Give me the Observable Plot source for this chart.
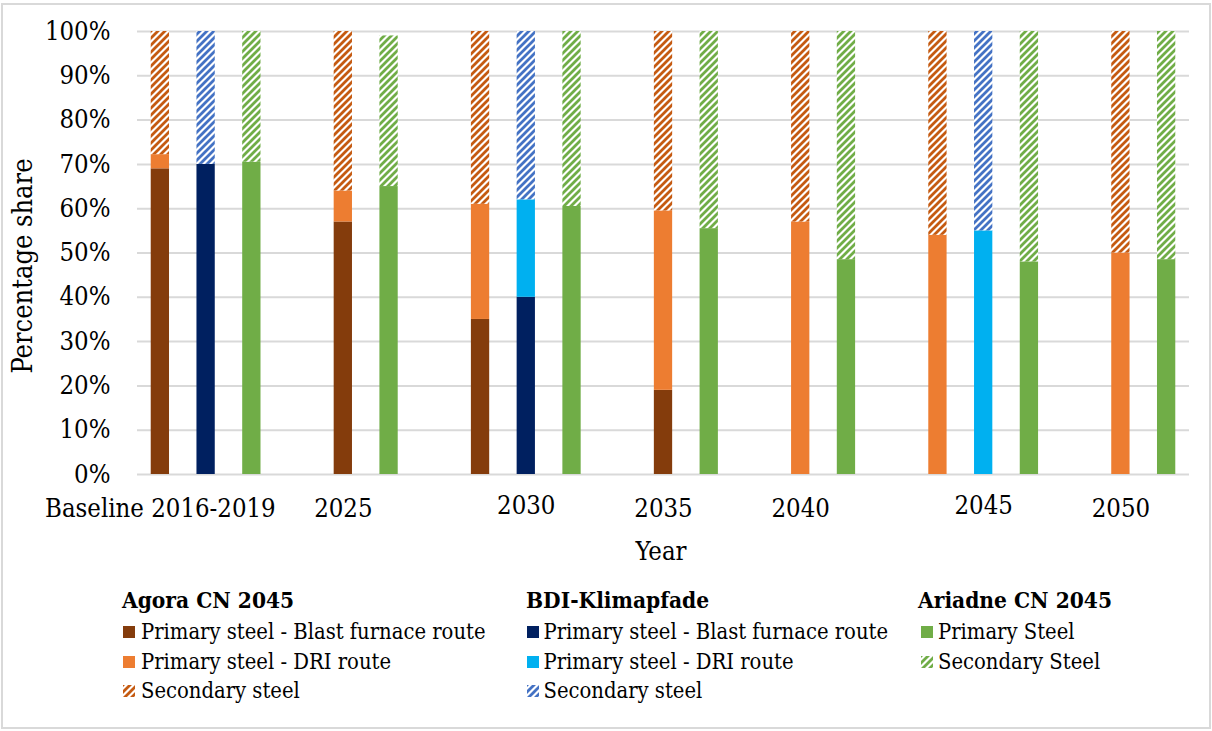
<!DOCTYPE html>
<html>
<head>
<meta charset="utf-8">
<script src="https://cdn.jsdelivr.net/npm/d3@7"></script>
<script src="https://cdn.jsdelivr.net/npm/@observablehq/plot@0.6"></script>
<style>
  body { margin: 0; background: #fff; }
  #wrap { position: relative; width: 1212px; height: 731px; overflow: hidden; font-family: "DejaVu Serif Condensed", "DejaVu Serif", serif; font-stretch: condensed; color: #000; }
  #frame { position: absolute; left: 1px; top: 3px; width: 1210px; height: 726px; border: 2px solid #d9d9d9; box-sizing: border-box; }
  #chart { position: absolute; left: 0; top: 0; }
  .ytitle { position: absolute; left: -127px; top: 250px; width: 300px; text-align: center; font-size: 27px; line-height: 32px; transform: rotate(-90deg); white-space: nowrap; }
  .xtitle { position: absolute; left: 511px; top: 535px; width: 300px; text-align: center; font-size: 25.5px; line-height: 32px; }
  .col { position: absolute; top: 585px; }
  .ltitle { font-weight: bold; font-size: 22.5px; line-height: 30px; white-space: nowrap; height: 32px; }
  .item { position: relative; height: 29.5px; font-size: 21.8px; line-height: 29.5px; white-space: nowrap; }
  .item svg { position: absolute; top: 9px; }
  .item span { position: absolute; left: 0; top: 0; }
</style>
</head>
<body>
<svg width="0" height="0" style="position:absolute">
  <defs>
    <pattern id="hatch-agora" patternUnits="userSpaceOnUse" width="7" height="7">
      <rect width="7" height="7" fill="#fff"/>
      <path d="M-1,1 l2,-2 M0,7 l7,-7 M6,8 l2,-2" stroke="#C55A11" stroke-width="2.8"/>
    </pattern>
    <pattern id="hatch-bdi" patternUnits="userSpaceOnUse" width="7" height="7">
      <rect width="7" height="7" fill="#fff"/>
      <path d="M-1,1 l2,-2 M0,7 l7,-7 M6,8 l2,-2" stroke="#4472C4" stroke-width="2.8"/>
    </pattern>
    <pattern id="hatch-ariadne" patternUnits="userSpaceOnUse" width="7" height="7">
      <rect width="7" height="7" fill="#fff"/>
      <path d="M-1,1 l2,-2 M0,7 l7,-7 M6,8 l2,-2" stroke="#70AD47" stroke-width="2.8"/>
    </pattern>
  </defs>
</svg>
<div id="wrap">
  <div id="frame"></div>
  <div id="chart"></div>
  <div class="ytitle">Percentage share</div>
  <div class="xtitle">Year</div>
  <div id="legend"></div>
</div>
<script>
// ---------- data ----------
const groups = ["Baseline 2016-2019", "2025", "2030", "2035", "2040", "2045", "2050"];
const scenarioKeys = ["Agora", "BDI", "Ariadne"];
const scenarioTitles = ["Agora CN 2045", "BDI-Klimapfade", "Ariadne CN 2045"];

const agoraBlastFurnace = [69, 57, 35, 19, 0, 0, 0];
const agoraDRI          = [3.2, 7, 26, 40.5, 57, 54, 50];
const agoraSecondary    = [27.8, 36, 39, 40.5, 43, 46, 50];

const bdiBlastFurnace = [70, null, 40, null, null, 0, null];
const bdiDRI          = [0, null, 22, null, null, 55, null];
const bdiSecondary    = [30, null, 38, null, null, 45, null];

const ariadnePrimary   = [70.5, 65, 60.5, 55.5, 48.5, 48, 48.5];
const ariadneSecondary = [29.5, 34, 39.5, 44.5, 51.5, 52, 51.5];

// which bar of each year group carries the year label
const labelUnder = ["Agora", "Agora", "BDI", "Agora", "Agora", "BDI", "Agora"];
const raisedLabels = ["2030", "2045"];

const yTicks = [0, 10, 20, 30, 40, 50, 60, 70, 80, 90, 100];

const seriesNames = [
  "Agora BF", "Agora DRI", "Agora Sec",
  "BDI BF", "BDI DRI", "BDI Sec",
  "Ariadne Primary", "Ariadne Sec"
];
const seriesFills = [
  "#843C0C", "#ED7D31", "url(#hatch-agora)",
  "#002060", "#00B0F0", "url(#hatch-bdi)",
  "#70AD47", "url(#hatch-ariadne)"
];
const legendLabels = [
  ["Primary steel - Blast furnace route", "Primary steel - DRI route", "Secondary steel"],
  ["Primary steel - Blast furnace route", "Primary steel - DRI route", "Secondary steel"],
  ["Primary Steel", "Secondary Steel"]
];
const legendSeries = [
  ["Agora BF", "Agora DRI", "Agora Sec"],
  ["BDI BF", "BDI DRI", "BDI Sec"],
  ["Ariadne Primary", "Ariadne Sec"]
];

// ---------- build table ----------
const seriesByScenario = {
  Agora: [["Agora BF", agoraBlastFurnace], ["Agora DRI", agoraDRI], ["Agora Sec", agoraSecondary]],
  BDI: [["BDI BF", bdiBlastFurnace], ["BDI DRI", bdiDRI], ["BDI Sec", bdiSecondary]],
  Ariadne: [["Ariadne Primary", ariadnePrimary], ["Ariadne Sec", ariadneSecondary]]
};

const slots = [];
const rows = [];
const slotLabel = new Map();
const raisedSlots = new Set();
groups.forEach((g, i) => {
  scenarioKeys.forEach(s => {
    const list = seriesByScenario[s];
    const present = list.some(([, arr]) => arr[i] != null);
    if (!present) return;
    const key = g + "|" + s;
    slots.push(key);
    list.forEach(([name, arr]) => {
      if (arr[i]) rows.push({slot: key, series: name, value: arr[i]});
    });
  });
  const lk = g + "|" + labelUnder[i];
  slotLabel.set(lk, g);
  if (raisedLabels.includes(g)) raisedSlots.add(lk);
  if (i < groups.length - 1) slots.push(g + "|gap");
});

const fontStack = "'DejaVu Serif Condensed', 'DejaVu Serif', serif";
const chart = Plot.plot({
  width: 1212,
  height: 580,
  marginLeft: 137,
  marginRight: 23,
  marginTop: 31,
  marginBottom: 106,
  style: {fontFamily: fontStack, fontStretch: "condensed", color: "#000", background: "transparent", overflow: "visible"},
  x: {type: "band", domain: slots, paddingInner: 0.6, paddingOuter: 0.3, round: false},
  y: {domain: [0, 100]},
  color: {type: "ordinal", domain: seriesNames, range: seriesFills},
  marks: [
    Plot.gridY({ticks: yTicks, stroke: "#d9d9d9", strokeOpacity: 1, strokeWidth: 2}),
    Plot.barY(rows, Plot.stackY({x: "slot", y: "value", fill: "series"})),
    Plot.axisY({ticks: yTicks, tickFormat: d => d + "%", tickSize: 0, tickPadding: 27, fontSize: 25.5, label: null}),
    Plot.axisX({tickSize: 0, tickPadding: 24, fontSize: 25.5, label: null,
      tickFormat: d => (slotLabel.has(d) && !raisedSlots.has(d)) ? slotLabel.get(d) : ""}),
    Plot.axisX({tickSize: 0, tickPadding: 21, fontSize: 25.5, label: null,
      tickFormat: d => raisedSlots.has(d) ? slotLabel.get(d) : ""})
  ]
});
document.getElementById("chart").appendChild(chart);

// ---------- legend ----------
const colorScale = chart.scale("color");
const colLefts = [122, 526, 918];
const swatchLefts = [1, 1, 3];
const textLefts = [19, 17.5, 20];
const legend = document.getElementById("legend");
scenarioTitles.forEach((t, c) => {
  const col = document.createElement("div");
  col.className = "col";
  col.style.left = colLefts[c] + "px";
  const title = document.createElement("div");
  title.className = "ltitle";
  title.textContent = t;
  col.appendChild(title);
  legendLabels[c].forEach((lab, k) => {
    const item = document.createElement("div");
    item.className = "item";
    const fill = colorScale.apply(legendSeries[c][k]);
    item.innerHTML = `<svg width="12" height="12" style="left:${swatchLefts[c]}px"><rect width="12" height="12" fill="${fill}"/></svg><span style="left:${textLefts[c]}px"></span>`;
    item.querySelector("span").textContent = lab;
    col.appendChild(item);
  });
  legend.appendChild(col);
});
</script>
</body>
</html>
